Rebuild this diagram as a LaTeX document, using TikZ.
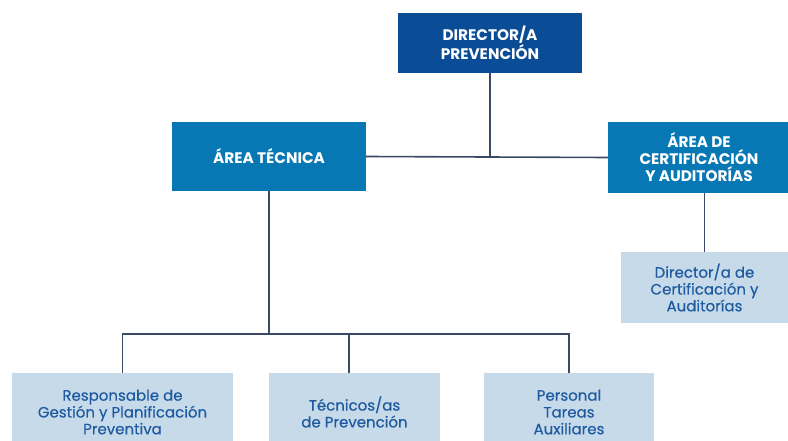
\documentclass[tikz,border=0pt]{standalone}
\usepackage{fontspec}
\setmainfont{Poppins}
\newfontfamily\subfont{Poppins}[FakeBold=0.4]
\definecolor{dirblue}{HTML}{0B4C97}
\definecolor{areablue}{HTML}{0878B4}
\definecolor{lightbox}{HTML}{C6DAEA}
\definecolor{lighttext}{HTML}{1E5AA0}
\definecolor{linecol}{HTML}{3A4A66}
\begin{document}
\begin{tikzpicture}[x=1pt,y=-1pt,
  topbox/.style={fill=#1, text=white, inner sep=0pt, align=center,
    font=\bfseries\fontsize{15.3}{17}\selectfont},
  subbox/.style={fill=lightbox, text=lighttext, inner sep=0pt, align=center,
    font=\subfont\fontsize{15}{16.8}\selectfont},
  conn/.style={draw=linecol, line width=1.6pt}]
\useasboundingbox (0,0) rectangle (788,441);
\node[topbox=dirblue, minimum width=184pt, minimum height=60pt] (dir) at (490,43) {DIRECTOR/A\\PREVENCIÓN};
\node[topbox=areablue, minimum width=194pt, minimum height=69pt] (at) at (269,156.5) {ÁREA TÉCNICA};
\node[topbox=areablue, minimum width=182pt, minimum height=71pt] (cert) at (699,157.5) {ÁREA DE\\CERTIFICACIÓN\\Y AUDITORÍAS};
\node[subbox, minimum width=168pt, minimum height=71pt] (dc) at (704.5,287.5) {Director/a de\\Certificación y\\Auditorías};
\node[subbox, minimum width=221pt, minimum height=78pt] (b1) at (122.5,412) {Responsable de\\Gestión y Planificación\\Preventiva};
\node[subbox, minimum width=171pt, minimum height=78pt] (b2) at (354.5,412) {Técnicos/as\\de Prevención};
\node[subbox, minimum width=170pt, minimum height=78pt] (b3) at (569,412) {Personal\\Tareas\\Auxiliares};
\coordinate (j2) at (349,373);
\coordinate (bus) at (269,334);
\draw[conn] (at.east) -- (cert.west);
\draw[conn] (dir.south) -- (dir.south |- at.east);
\draw[conn] (cert.south -| dc.north) -- (dc.north);
\draw[conn] (at.south) -- (bus);
\draw[conn] (b1.north) -- (b1.north |- bus) -- (b3.north |- bus) -- (b3.north);
\draw[conn] (j2 |- bus) -- (j2);
\end{tikzpicture}
\end{document}
